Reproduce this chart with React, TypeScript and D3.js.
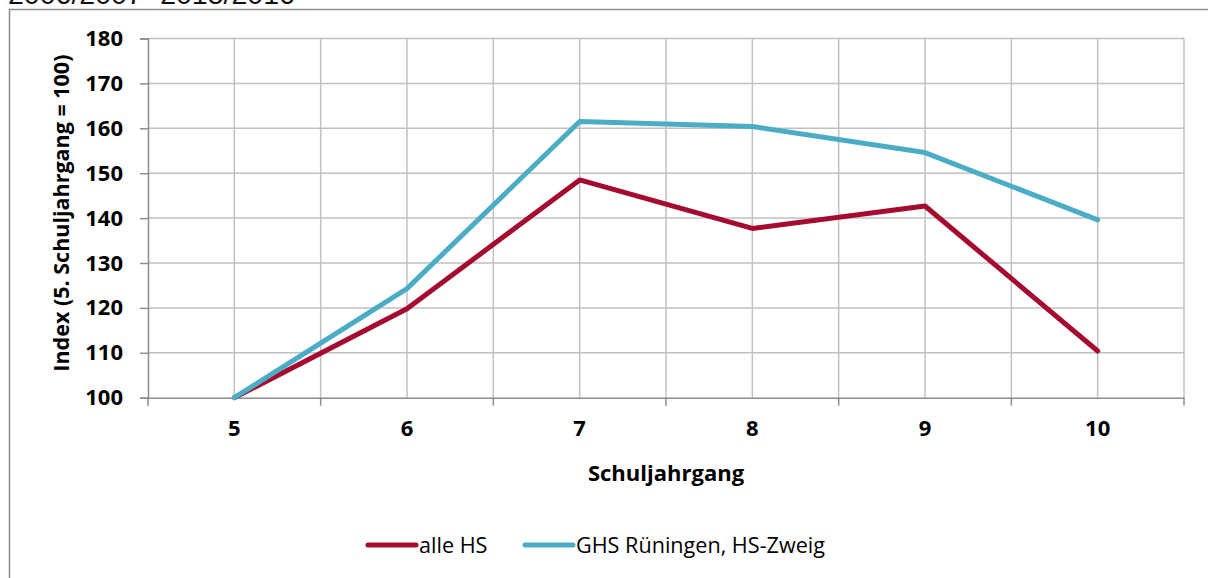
import { useEffect, useRef } from 'react';
import * as d3 from 'd3';

const categories = ['5', '6', '7', '8', '9', '10'];
const alleHS = [100, 119.8, 148.5, 137.7, 142.7, 110.4];
const ghsRueningen = [100, 124.3, 161.5, 160.4, 154.6, 139.6];
const yTicks = [100, 110, 120, 130, 140, 150, 160, 170, 180];
const seriesNames = ['alle HS', 'GHS Rüningen, HS-Zweig'];
const seriesColors = ['#A50B2E', '#4BACC6'];

const FONT = '"Open Sans", Lato, sans-serif';

const App = () => {
  const svgRef = useRef<SVGSVGElement>(null);

  useEffect(() => {
    const svg = d3.select(svgRef.current);
    svg.selectAll('*').remove();

    const plot = { left: 148, right: 1184, top: 38.5, bottom: 397.7 };

    // header text, cut off at the top of the picture
    svg
      .append('text')
      .attr('x', 8)
      .attr('y', 4)
      .attr('font-family', '"Liberation Sans", Arial, sans-serif')
      .attr('font-size', 28.5)
      .attr('fill', '#111')
      .text('2006/2007- 2015/2016');

    svg
      .append('rect')
      .attr('x', 9.5)
      .attr('y', 9.5)
      .attr('width', 1200)
      .attr('height', 600)
      .attr('fill', 'white')
      .attr('stroke', '#8c8c8c')
      .attr('stroke-width', 1.5);

    const x = d3.scaleBand().domain(categories).range([plot.left, plot.right]).padding(0);
    const y = d3.scaleLinear().domain([100, 180]).range([plot.bottom, plot.top]);
    const cx = (c: string) => (x(c) as number) + x.bandwidth() / 2;

    const grid = svg.append('g').attr('stroke', '#c0c0c0').attr('stroke-width', 1.5);
    yTicks.slice(1).forEach((t) => {
      grid.append('line').attr('x1', plot.left).attr('x2', plot.right).attr('y1', y(t)).attr('y2', y(t));
    });
    categories.forEach((c) => {
      grid.append('line').attr('x1', cx(c)).attr('x2', cx(c)).attr('y1', plot.top).attr('y2', plot.bottom);
      const b = (x(c) as number) + x.bandwidth();
      grid.append('line').attr('x1', b).attr('x2', b).attr('y1', plot.top).attr('y2', plot.bottom);
    });

    // y axis
    const yAxis = svg
      .append('g')
      .attr('transform', `translate(${plot.left},0)`)
      .call(d3.axisLeft(y).tickValues(yTicks).tickSize(8).tickPadding(17));
    yAxis.select('.domain').attr('stroke', '#8c8c8c').attr('stroke-width', 1.5);
    yAxis.selectAll('.tick line').attr('stroke', '#8c8c8c').attr('stroke-width', 1.5);
    yAxis
      .selectAll('.tick text')
      .attr('font-family', FONT)
      .attr('font-weight', 'bold')
      .attr('font-size', 22)
      .attr('fill', '#000');

    // x axis
    const xAxis = svg
      .append('g')
      .attr('transform', `translate(0,${plot.bottom})`)
      .call(d3.axisBottom(x).tickSize(0).tickPadding(23));
    xAxis.select('.domain').attr('stroke', '#8c8c8c').attr('stroke-width', 1.5);
    xAxis
      .selectAll('.tick text')
      .attr('font-family', FONT)
      .attr('font-weight', 'bold')
      .attr('font-size', 22)
      .attr('fill', '#000');
    const bounds = [plot.left, ...categories.map((c) => (x(c) as number) + x.bandwidth())];
    bounds.forEach((b) => {
      svg
        .append('line')
        .attr('x1', b)
        .attr('x2', b)
        .attr('y1', plot.bottom)
        .attr('y2', plot.bottom + 8)
        .attr('stroke', '#8c8c8c')
        .attr('stroke-width', 1.5);
    });

    svg
      .append('text')
      .attr('x', (plot.left + plot.right) / 2)
      .attr('y', 481)
      .attr('text-anchor', 'middle')
      .attr('font-family', FONT)
      .attr('font-weight', 'bold')
      .attr('font-size', 22)
      .text('Schuljahrgang');

    svg
      .append('text')
      .attr('transform', `translate(69,${(plot.top + plot.bottom) / 2 - 5}) rotate(-90)`)
      .attr('text-anchor', 'middle')
      .attr('font-family', FONT)
      .attr('font-weight', 'bold')
      .attr('font-size', 21.5)
      .text('Index (5. Schuljahrgang = 100)');

    const line = d3
      .line<number>()
      .x((_, i) => cx(categories[i]))
      .y((d) => y(d));

    [alleHS, ghsRueningen].forEach((s, i) => {
      svg
        .append('path')
        .datum(s)
        .attr('d', line)
        .attr('fill', 'none')
        .attr('stroke', seriesColors[i])
        .attr('stroke-width', 5)
        .attr('stroke-linejoin', 'round')
        .attr('stroke-linecap', 'round');
    });

    // legend
    const legendItems = [
      { x1: 368, x2: 416, tx: 419 },
      { x1: 525, x2: 573, tx: 576 },
    ];
    legendItems.forEach((it, i) => {
      svg
        .append('line')
        .attr('x1', it.x1)
        .attr('x2', it.x2)
        .attr('y1', 545)
        .attr('y2', 545)
        .attr('stroke', seriesColors[i])
        .attr('stroke-width', 5)
        .attr('stroke-linecap', 'round');
      svg
        .append('text')
        .attr('x', it.tx)
        .attr('y', 553)
        .attr('font-family', FONT)
        .attr('font-size', 21.6)
        .text(seriesNames[i]);
    });
  }, []);

  return (
    <svg
      ref={svgRef}
      width={1208}
      height={578}
      style={{ position: 'absolute', left: 0, top: 0, display: 'block', background: 'white' }}
    ></svg>
  );
};

export default App;
